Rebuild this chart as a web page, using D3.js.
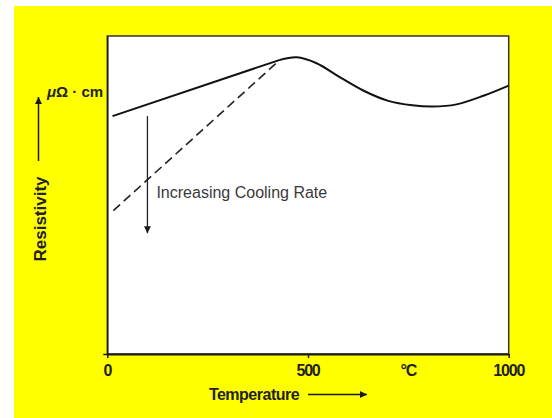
<!DOCTYPE html>
<html>
<head>
<meta charset="utf-8">
<script src="https://cdn.jsdelivr.net/npm/d3@7"></script>
<style>
  body { margin: 0; background: #fff; }
  svg text { font-family: "Liberation Sans", Arial, Helvetica, sans-serif; }
</style>
</head>
<body>
<div id="chart"></div>
<script>
// temperature (°C) vs resistivity (arbitrary units, 0..100 of plot height)
// slow cooling: straight rise, then a hump and a dip
var slowRiseTemps = [13, 430];
var slowRiseRes   = [74.8, 92.5];
var slowTemps = [430, 472, 520, 580, 640, 700, 760, 810, 870, 937, 1000];
var slowRes   = [92.5, 93.3, 91.5, 87.0, 82.7, 79.6, 78.2, 77.8, 78.5, 81.2, 84.4];
var fastTemps = [15, 430];
var fastRes   = [45.1, 92.5];
var xTickValues = [0, 500, 1000];
var xLabelValues = [0, 500, 750, 1000];
var xLabels = ["0", "500", "\u00b0C", "1000"];
var coolingArrow = { temp: 100, from: 74.8, to: 38 };

var width = 552, height = 418;
var margin = { top: 36, right: 43.3, bottom: 64, left: 107.3 };
var graphWidth = width - margin.left - margin.right;
var graphHeight = height - margin.top - margin.bottom;

var svg = d3.select("#chart")
    .append("svg")
    .attr("width", width)
    .attr("height", height);

var defs = svg.append("defs");
defs.append("marker")
    .attr("id", "head")
    .attr("viewBox", "0 0 10 10")
    .attr("refX", 10).attr("refY", 5)
    .attr("markerUnits", "userSpaceOnUse")
    .attr("markerWidth", 11).attr("markerHeight", 7)
    .attr("orient", "auto")
    .append("path")
    .attr("d", "M0,0 L10,5 L0,10 Z")
    .attr("fill", "#1a1a1a");

// background
svg.append("rect").attr("width", width).attr("height", height).attr("fill", "#fff");
svg.append("rect").attr("x", 14).attr("y", 6)
    .attr("width", width - 14).attr("height", height - 6)
    .attr("fill", "#ffff00");

var g = svg.append("g")
    .attr("transform", `translate(${margin.left},${margin.top})`);

var xScale = d3.scaleLinear().domain([0, 1000]).range([0, graphWidth]);
var yScale = d3.scaleLinear().domain([0, 100]).range([graphHeight, 0]);

// plot frame
g.append("rect")
    .attr("width", graphWidth)
    .attr("height", graphHeight)
    .attr("fill", "#fff")
    .attr("stroke", "#333")
    .attr("stroke-width", 1.5);

// axes (ticks only)
var xAxis = g.append("g")
    .attr("transform", `translate(0,${graphHeight})`)
    .call(d3.axisBottom(xScale).tickValues(xTickValues).tickSizeInner(4).tickSizeOuter(0).tickFormat(""));
xAxis.select(".domain").attr("stroke", "#1a1a1a").attr("stroke-width", 2);
xAxis.selectAll(".tick line").attr("stroke", "#1a1a1a").attr("stroke-width", 1.5);

var yAxis = g.append("g")
    .call(d3.axisLeft(yScale).tickValues([0]).tickSizeInner(4).tickSizeOuter(0).tickFormat(""));
yAxis.select(".domain").attr("stroke", "#1a1a1a").attr("stroke-width", 1.5);
yAxis.selectAll(".tick line").attr("stroke", "#1a1a1a").attr("stroke-width", 1.5);

// x labels
g.selectAll("text.xlab")
    .data(xLabelValues)
    .enter().append("text")
    .attr("class", "xlab")
    .attr("x", d => xScale(d))
    .attr("y", graphHeight + 22)
    .attr("text-anchor", "middle")
    .attr("font-size", 16)
    .attr("font-weight", "bold")
    .attr("letter-spacing", -1.2)
    .attr("fill", "#222")
    .text((d, i) => xLabels[i]);

// curves
var straight = d3.line()
    .x(p => xScale(p[0]))
    .y(p => yScale(p[1]));
var smooth = d3.line()
    .x(p => xScale(p[0]))
    .y(p => yScale(p[1]))
    .curve(d3.curveCatmullRom.alpha(0.5));

g.append("path")
    .datum(slowRiseTemps.map((t, i) => [t, slowRiseRes[i]]))
    .attr("fill", "none")
    .attr("stroke", "#111")
    .attr("stroke-width", 2)
    .attr("d", straight);

g.append("path")
    .datum(slowTemps.map((t, i) => [t, slowRes[i]]))
    .attr("fill", "none")
    .attr("stroke", "#111")
    .attr("stroke-width", 2)
    .attr("d", smooth);

g.append("path")
    .datum(fastTemps.map((t, i) => [t, fastRes[i]]))
    .attr("fill", "none")
    .attr("stroke", "#222")
    .attr("stroke-width", 1.6)
    .attr("stroke-dasharray", "9,5")
    .attr("d", straight);

// cooling rate arrow
g.append("line")
    .attr("x1", xScale(coolingArrow.temp)).attr("x2", xScale(coolingArrow.temp))
    .attr("y1", yScale(coolingArrow.from)).attr("y2", yScale(coolingArrow.to))
    .attr("stroke", "#222")
    .attr("stroke-width", 1.3)
    .attr("marker-end", "url(#head)");

g.append("text")
    .attr("x", xScale(coolingArrow.temp) + 9)
    .attr("y", 162)
    .attr("font-size", 16)
    .attr("fill", "#3a3a3a")
    .text("Increasing Cooling Rate");

// y axis label + arrow
svg.append("text")
    .attr("transform", "translate(46,219) rotate(-90)")
    .attr("text-anchor", "middle")
    .attr("font-size", 17)
    .attr("font-weight", "bold")
    .attr("fill", "#222")
    .text("Resistivity");

svg.append("line")
    .attr("x1", 38.5).attr("x2", 38.5)
    .attr("y1", 161).attr("y2", 97)
    .attr("stroke", "#1a1a1a")
    .attr("stroke-width", 1.5)
    .attr("marker-end", "url(#head)");

var unit = svg.append("text")
    .attr("x", 47)
    .attr("y", 97)
    .attr("font-size", 15)
    .attr("font-weight", "bold")
    .attr("fill", "#222");
unit.append("tspan").attr("font-style", "italic").text("\u03bc");
unit.append("tspan").text("\u03a9 \u00b7 cm");

// x axis title + arrow
svg.append("text")
    .attr("x", 254)
    .attr("y", 400)
    .attr("text-anchor", "middle")
    .attr("font-size", 16)
    .attr("font-weight", "bold")
    .attr("letter-spacing", -0.5)
    .attr("fill", "#222")
    .text("Temperature");

svg.append("line")
    .attr("x1", 308).attr("x2", 367)
    .attr("y1", 394.5).attr("y2", 394.5)
    .attr("stroke", "#1a1a1a")
    .attr("stroke-width", 1.5)
    .attr("marker-end", "url(#head)");
</script>
</body>
</html>
